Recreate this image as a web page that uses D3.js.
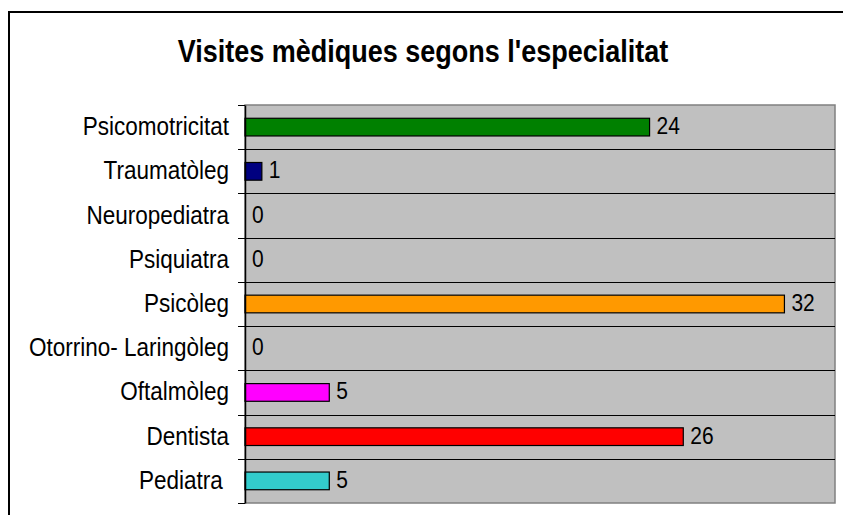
<!DOCTYPE html>
<html>
<head>
<meta charset="utf-8">
<script src="https://cdn.jsdelivr.net/npm/d3@7"></script>
<style>
  body { margin: 0; background: #fff; }
  text { font-family: "Liberation Sans", Arial, sans-serif; }
</style>
</head>
<body>
<div id="plot"></div>
<script>
// Data
var categories = ["Psicomotricitat", "Traumatòleg", "Neuropediatra", "Psiquiatra", "Psicòleg",
                  "Otorrino- Laringòleg", "Oftalmòleg", "Dentista", "Pediatra "];
var visits = [24, 1, 0, 0, 32, 0, 5, 26, 5];
var barColours = ["#008000", "#000080", "#993366", "#FFFFCC", "#FF9900",
                  "#660066", "#FF00FF", "#FF0000", "#33CCCC"];
var xTicks = [0, 35];
var chartTitle = "Visites mèdiques segons l'especialitat";

var w = 843, h = 515;
var plotLeft = 245, plotRight = 835, plotTop = 105, plotBottom = 503;
var stretch = 1.13; // text in the source is drawn a bit taller than wide

var svg1 = d3.select("#plot").append("svg")
    .attr("width", w)
    .attr("height", h);

// Outer chart border
svg1.append("rect")
    .attr("x", 9).attr("y", 12)
    .attr("width", w).attr("height", h)
    .attr("fill", "none")
    .attr("stroke", "#000")
    .attr("stroke-width", 2);

// Title
svg1.append("text")
    .attr("transform", "translate(423,62) scale(1," + stretch + ")")
    .attr("text-anchor", "middle")
    .attr("font-size", 27)
    .attr("font-weight", "bold")
    .text(chartTitle);

// Scales
var xScale = d3.scaleLinear()
    .domain(d3.extent(xTicks))
    .range([plotLeft, plotRight]);

var yScale = d3.scaleBand()
    .domain(categories)
    .range([plotTop, plotBottom])
    .padding(0);

// Plot area background
svg1.append("rect")
    .attr("x", plotLeft).attr("y", plotTop)
    .attr("width", plotRight - plotLeft)
    .attr("height", plotBottom - plotTop)
    .attr("fill", "#C0C0C0")
    .attr("stroke", "#808080")
    .attr("stroke-width", 1.5);

// Gridlines between categories
svg1.selectAll(".grid")
    .data(categories.slice(1))
    .enter().append("line")
    .attr("class", "grid")
    .attr("x1", plotLeft).attr("x2", plotRight)
    .attr("y1", function(d) { return Math.round(yScale(d)) + 0.5; })
    .attr("y2", function(d) { return Math.round(yScale(d)) + 0.5; })
    .attr("stroke", "#000")
    .attr("stroke-width", 1);

// Bars
var bw = yScale.bandwidth();
svg1.selectAll(".bar")
    .data(categories)
    .enter().append("rect")
    .attr("class", "bar")
    .attr("x", xScale(0))
    .attr("y", function(d) { return yScale(d) + bw * 0.3; })
    .attr("width", function(d, i) { return xScale(visits[i]) - xScale(0); })
    .attr("height", bw * 0.4)
    .attr("fill", function(d, i) { return barColours[i]; })
    .attr("stroke", function(d, i) { return visits[i] > 0 ? "#000" : "none"; })
    .attr("stroke-width", 1.2);

// Value labels
svg1.selectAll(".val")
    .data(categories)
    .enter().append("text")
    .attr("class", "val")
    .attr("transform", function(d, i) {
      return "translate(" + (xScale(visits[i]) + 7) + "," + (yScale(d) + bw / 2 + 7) + ") scale(1," + stretch + ")";
    })
    .attr("font-size", 21)
    .text(function(d, i) { return visits[i]; });

// Category axis
var yAxis = d3.axisLeft(yScale).tickSize(0).tickPadding(16);
var gy = svg1.append("g")
    .attr("transform", "translate(" + plotLeft + ",0)")
    .call(yAxis);
gy.select(".domain").attr("stroke", "#000").attr("stroke-width", 1.5);
gy.selectAll("text")
    .attr("font-size", 22.5)
    .attr("fill", "#000")
    .attr("x", null)
    .attr("dy", null)
    .attr("transform", "translate(-16,8) scale(1," + stretch + ")")
    .style("white-space", "pre");

// Tick marks at category boundaries
var bounds = categories.map(function(d) { return yScale(d); }).concat([plotBottom]);
svg1.selectAll(".tick-mark")
    .data(bounds)
    .enter().append("line")
    .attr("class", "tick-mark")
    .attr("x1", plotLeft - 7).attr("x2", plotLeft)
    .attr("y1", function(d) { return Math.round(d) + 0.5; })
    .attr("y2", function(d) { return Math.round(d) + 0.5; })
    .attr("stroke", "#000");
</script>
</body>
</html>
